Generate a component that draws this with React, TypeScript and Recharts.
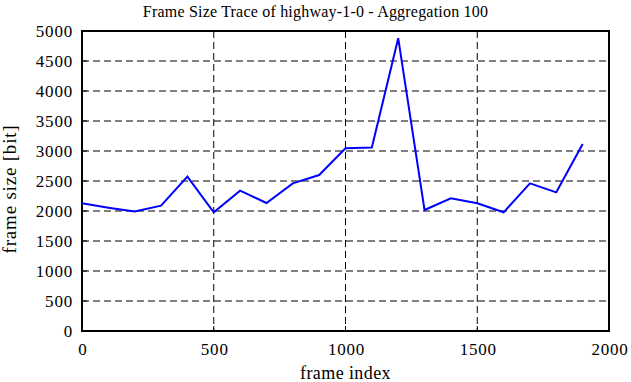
import React from "react";
import { CartesianGrid, Line, LineChart, ReferenceArea, XAxis, YAxis } from "recharts";

const frameIndex = [0, 100, 200, 300, 400, 500, 600, 700, 800, 900, 1000, 1100, 1200, 1300, 1400, 1500, 1600, 1700, 1800, 1900];
const frameSize = [2128, 2055, 1990, 2089, 2572, 1978, 2339, 2133, 2461, 2600, 3044, 3058, 4880, 2017, 2211, 2128, 1978, 2461, 2311, 3117];
const xTicks = [0, 500, 1000, 1500, 2000];
const yTicks = [0, 500, 1000, 1500, 2000, 2500, 3000, 3500, 4000, 4500, 5000];

const data = frameIndex.map((x, i) => ({ x, size: frameSize[i] }));

const font = "'Liberation Serif', 'DejaVu Serif', serif";

const XTick = (props: any) => {
  const { x, y, payload } = props;
  return (
    <text x={x + 1} y={y + 26} textAnchor="middle" fontFamily={font} fontSize={17} letterSpacing={0.8} fill="#000">
      {payload.value}
    </text>
  );
};

const YTick = (props: any) => {
  const { x, y, payload } = props;
  return (
    <text x={x} y={y + 6} textAnchor="end" fontFamily={font} fontSize={17} letterSpacing={0.8} fill="#000">
      {payload.value}
    </text>
  );
};

export default function App() {
  return (
    <div style={{ position: "absolute", left: 0, top: 0, width: 631, height: 382, background: "#fff", fontFamily: font }}>
      <div style={{ position: "absolute", left: 0, top: 1, width: 631, textAlign: "center", fontSize: 16, letterSpacing: 0.2, lineHeight: "22px" }}>
        Frame Size Trace of highway-1-0 - Aggregation 100
      </div>
      <div
        style={{
          position: "absolute",
          left: 10,
          top: 189,
          fontSize: 19,
          letterSpacing: 0.8,
          whiteSpace: "nowrap",
          transform: "translate(-50%, -50%) rotate(-90deg)",
        }}
      >
        frame size [bit]
      </div>
      <div style={{ position: "absolute", left: 82, width: 527, top: 365, textAlign: "center", fontSize: 18, letterSpacing: 0.4, lineHeight: "17px" }}>
        frame index
      </div>
      <LineChart width={631} height={382} data={data} margin={{ top: 31, right: 22, bottom: 21, left: 0 }}>
        <CartesianGrid stroke="#000" strokeDasharray="7 4" strokeWidth={1} />
        <XAxis
          type="number"
          dataKey="x"
          domain={[0, 2000]}
          ticks={xTicks}
          height={30}
          tickSize={-5}
          tickMargin={3}
          axisLine={false}
          tickLine={{ stroke: "#000" }}
          tick={<XTick />}
        />
        <YAxis
          type="number"
          domain={[0, 5000]}
          ticks={yTicks}
          width={82}
          tickSize={-5}
          tickMargin={14}
          axisLine={false}
          tickLine={{ stroke: "#000" }}
          tick={<YTick />}
        />
        <ReferenceArea
          x1={0}
          x2={2000}
          y1={0}
          y2={5000}
          fill="none"
          fillOpacity={0}
          stroke="#000"
          strokeWidth={2}
          ifOverflow="visible"
        />
        <Line
          type="linear"
          dataKey="size"
          stroke="#0000ff"
          strokeWidth={2}
          dot={false}
          isAnimationActive={false}
        />
      </LineChart>
    </div>
  );
}
